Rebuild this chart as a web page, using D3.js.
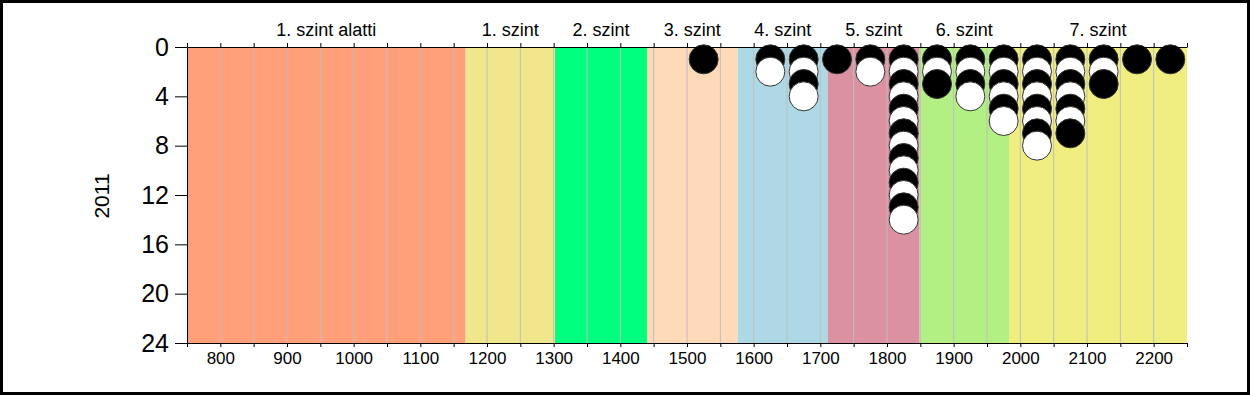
<!DOCTYPE html>
<html lang="hu">
<head>
    <meta charset="UTF-8">
    <title>2011 - szintek</title>
    <script src="https://cdnjs.cloudflare.com/ajax/libs/d3/7.8.5/d3.min.js"></script>
    <style>
        body { margin: 0; background: #fff; }
        svg { display: block; font-family: "Liberation Sans", Arial, sans-serif; }
    </style>
</head>
<body>
    <div id="wrapper"></div>
    <script>
        // adatok
        const levels = ['1. szint alatti', '1. szint', '2. szint', '3. szint', '4. szint', '5. szint', '6. szint', '7. szint']
        const levelBounds = [750, 1168, 1302, 1440, 1576, 1711, 1849, 1983, 2250]
        const levelColors = ['#FFA07A', '#F0E68C', '#00FF7F', '#FFDAB9', '#ADD8E6', '#DC91A0', '#B3F084', '#F0EE80']

        const scoreBins = [1525, 1625, 1675, 1725, 1775, 1825, 1875, 1925, 1975, 2025, 2075, 2125, 2175, 2225]
        const counts = [1, 2, 4, 1, 2, 14, 3, 4, 6, 8, 7, 3, 1, 1]

        const yTicks = [0, 4, 8, 12, 16, 20, 24]
        const xLabels = [800, 900, 1000, 1100, 1200, 1300, 1400, 1500, 1600, 1700, 1800, 1900, 2000, 2100, 2200]
        const yearLabel = '2011'

        const dimensions = {
            width: 1250,
            height: 395,
            margin: { top: 47, right: 63, bottom: 52, left: 187 }
        }
        dimensions.boundedWidth = dimensions.width - dimensions.margin.left - dimensions.margin.right
        dimensions.boundedHeight = dimensions.height - dimensions.margin.top - dimensions.margin.bottom

        const svg = d3.select('#wrapper')
            .append('svg')
                .attr('width', dimensions.width)
                .attr('height', dimensions.height)

        // keret
        svg.append('rect')
            .attr('x', 1.5).attr('y', 1.5)
            .attr('width', dimensions.width - 3)
            .attr('height', dimensions.height - 3)
            .attr('fill', '#fff')
            .attr('stroke', '#000')
            .attr('stroke-width', 3)

        const bounds = svg.append('g')
            .attr('transform', `translate(${dimensions.margin.left},${dimensions.margin.top})`)

        const xScale = d3.scaleLinear()
            .domain([750, 2250])
            .range([0, dimensions.boundedWidth])

        const yScale = d3.scaleLinear()
            .domain([0, 24])
            .range([0, dimensions.boundedHeight])

        // szint sávok
        const bands = levels.map((name, i) => ({ name, x0: levelBounds[i], x1: levelBounds[i + 1], color: levelColors[i] }))

        bounds.selectAll('.band')
            .data(bands)
            .join('rect')
                .attr('class', 'band')
                .attr('x', d => xScale(d.x0))
                .attr('y', 0)
                .attr('width', d => xScale(d.x1) - xScale(d.x0))
                .attr('height', dimensions.boundedHeight)
                .attr('fill', d => d.color)

        // rácsvonalak (50-enként)
        const gridValues = d3.range(800, 2250, 50)
        bounds.selectAll('.grid')
            .data(gridValues)
            .join('line')
                .attr('class', 'grid')
                .attr('x1', d => xScale(d)).attr('x2', d => xScale(d))
                .attr('y1', 0).attr('y2', dimensions.boundedHeight)
                .attr('stroke', '#BEBEBE')
                .attr('stroke-width', 1)

        // sáv feliratok
        bounds.selectAll('.band-label')
            .data(bands)
            .join('text')
                .attr('class', 'band-label')
                .attr('x', d => (xScale(d.x0) + xScale(d.x1)) / 2)
                .attr('y', -11)
                .attr('text-anchor', 'middle')
                .attr('font-size', 18)
                .attr('fill', '#000')
                .text(d => d.name)

        // pontok
        const dots = []
        scoreBins.forEach((bin, i) => {
            for (let k = 1; k <= counts[i]; k++) dots.push({ bin, k })
        })

        bounds.selectAll('.dot')
            .data(dots)
            .join('circle')
                .attr('class', 'dot')
                .attr('cx', d => xScale(d.bin))
                .attr('cy', d => yScale(d.k))
                .attr('r', 14.5)
                .attr('fill', d => d.k % 2 === 1 ? '#000' : '#fff')
                .attr('stroke', '#333')
                .attr('stroke-width', 1)

        // tengelyek
        const xTickValues = d3.range(750, 2251, 50)

        bounds.append('g')
            .call(d3.axisTop(xScale)
                .tickValues(xTickValues)
                .tickSize(4)
                .tickSizeOuter(0)
                .tickFormat(''))

        const bottomAxis = bounds.append('g')
            .attr('transform', `translate(0,${dimensions.boundedHeight})`)
            .call(d3.axisBottom(xScale)
                .tickValues(xTickValues)
                .tickSize(4)
                .tickSizeOuter(0)
                .tickPadding(5)
                .tickFormat(d => xLabels.includes(d) ? d : ''))
        bottomAxis.selectAll('text')
            .attr('font-size', 17)
            .attr('fill', '#000')

        const leftAxis = bounds.append('g')
            .call(d3.axisLeft(yScale)
                .tickValues(yTicks)
                .tickSize(12)
                .tickSizeOuter(0)
                .tickPadding(6))
        leftAxis.selectAll('text')
            .attr('font-size', 25)
            .attr('fill', '#000')

        svg.selectAll('.domain, .tick line').attr('stroke', '#000')
        svg.selectAll('g').filter(function () { return this.getAttribute('font-family') }).attr('font-family', null)

        // év felirat
        svg.append('text')
            .attr('transform', 'translate(109,196) rotate(-90)')
            .attr('text-anchor', 'middle')
            .attr('font-size', 21)
            .attr('fill', '#000')
            .text(yearLabel)
    </script>
</body>
</html>
